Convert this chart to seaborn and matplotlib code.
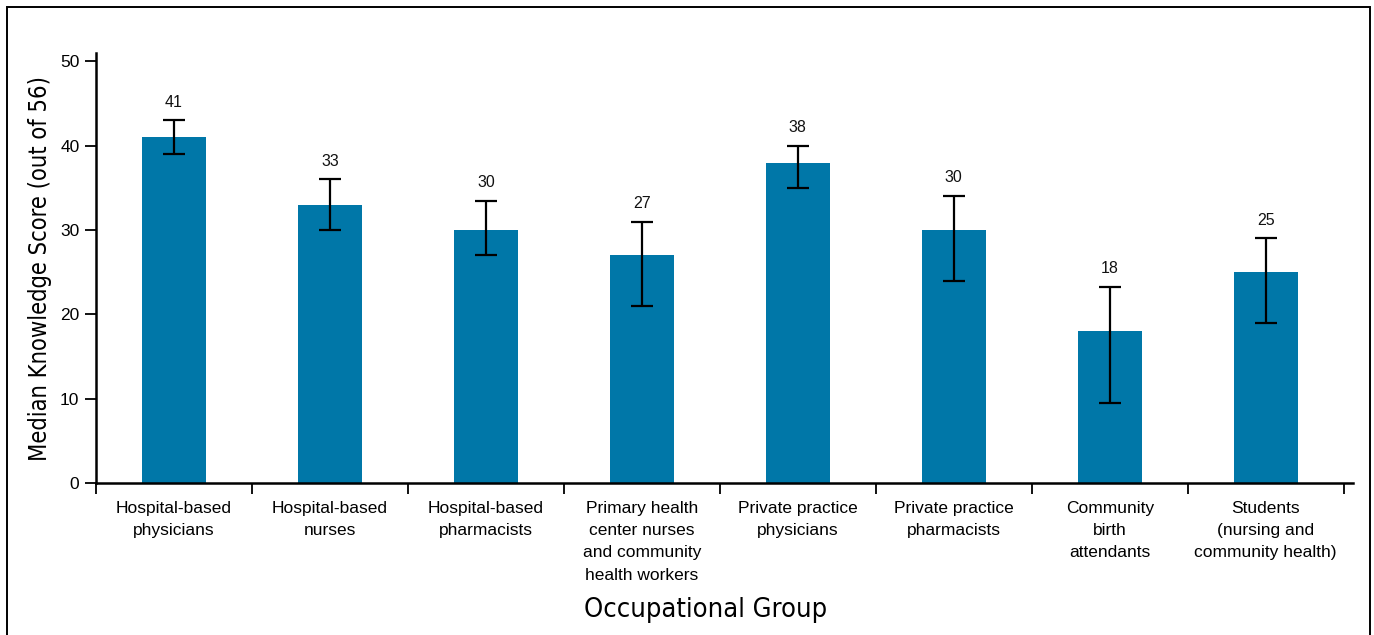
import matplotlib
matplotlib.use("Agg")
import matplotlib.pyplot as plt
import matplotlib.patches as mpatches
from matplotlib.ticker import FixedLocator
import seaborn as sns
import pandas as pd
import numpy as np

# Occupational groups and their median knowledge scores with ranges
groups = [
    "Hospital-based\nphysicians",
    "Hospital-based\nnurses",
    "Hospital-based\npharmacists",
    "Primary health\ncenter nurses\nand community\nhealth workers",
    "Private practice\nphysicians",
    "Private practice\npharmacists",
    "Community\nbirth\nattendants",
    "Students\n(nursing and\ncommunity health)",
]
medians = [41, 33, 30, 27, 38, 30, 18, 25]
lower = [39, 30, 27, 21, 35, 24, 9.5, 19]
upper = [43, 36, 33.5, 31, 40, 34, 23.2, 29]

sns.set_theme(style="white")
plt.rcParams["font.family"] = ["Liberation Sans", "DejaVu Sans"]
plt.rcParams["text.color"] = "black"
plt.rcParams["axes.labelcolor"] = "black"
plt.rcParams["xtick.color"] = "black"
plt.rcParams["ytick.color"] = "black"

df = pd.DataFrame({"group": groups, "median": medians})

fig = plt.figure(figsize=(13.74, 6.35), dpi=100)
ax = fig.add_axes([0.0699, 0.2394, 0.9148, 0.6771])

bar_color = "#0077A8"
sns.barplot(data=df, x="group", y="median", color=bar_color, width=0.41,
            saturation=1, errorbar=None, linewidth=0, ax=ax)

x = np.arange(len(groups))
med = np.array(medians, dtype=float)
lo = np.array(lower, dtype=float)
hi = np.array(upper, dtype=float)
ax.errorbar(x, med, yerr=[med - lo, hi - med], fmt="none", ecolor="black",
            elinewidth=1.6, capsize=8, capthick=1.6, zorder=5)

for xi, h, m in zip(x, hi, medians):
    ax.text(xi, h + 1.3, f"{m}", ha="center", va="bottom", fontsize=11.5,
            color="#111111")

ax.set_xlim(-0.5, 7.56)
ax.set_ylim(0, 51)
ax.set_yticks([0, 10, 20, 30, 40, 50])
ax.tick_params(axis="y", which="major", length=8, width=1.3,
               labelsize=12.5, pad=4, direction="out", left=True)

# category labels at bar centres, tick marks at the category boundaries
ax.xaxis.set_major_locator(FixedLocator(x))
ax.set_xticklabels(groups, fontsize=12.5, linespacing=1.6)
ax.xaxis.set_minor_locator(FixedLocator(np.arange(-0.5, 8.0, 1.0)))
ax.tick_params(axis="x", which="major", length=0, pad=13)
ax.tick_params(axis="x", which="minor", length=8, width=1.3,
               direction="out", bottom=True)

for side in ["top", "right"]:
    ax.spines[side].set_visible(False)
for side in ["left", "bottom"]:
    ax.spines[side].set_color("black")
    ax.spines[side].set_linewidth(1.8)

ax.set_xlabel("Occupational Group", fontsize=19.5, family="DejaVu Sans",
              fontstretch="condensed", labelpad=6)
ax.xaxis.set_label_coords(0.485, -0.265)
ax.set_ylabel("Median Knowledge Score (out of 56)", fontsize=17,
              family="DejaVu Sans", fontstretch="condensed", labelpad=6)

# outer frame around the figure
frame = mpatches.Rectangle((0.0051, -0.05), 0.9920, 1.039,
                           transform=fig.transFigure, fill=False,
                           edgecolor="black", linewidth=1.4, clip_on=False)
fig.patches.append(frame)

fig.savefig("out.png", dpi=100, facecolor="white")
